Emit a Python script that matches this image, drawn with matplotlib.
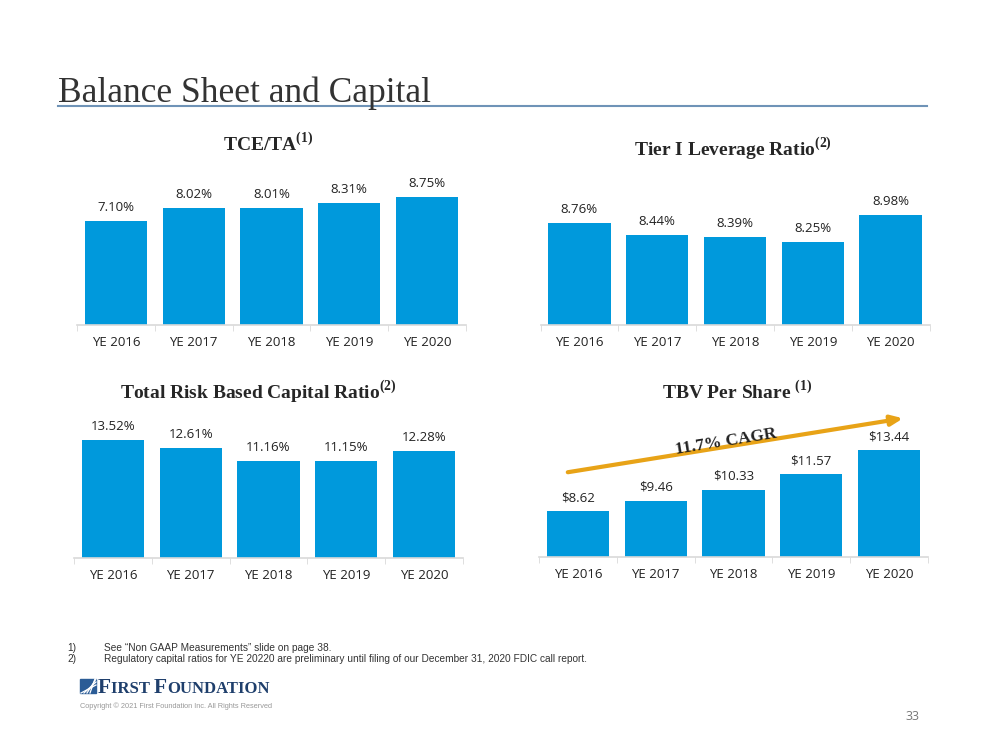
import numpy as np
import matplotlib
matplotlib.use("Agg")
import matplotlib.pyplot as plt
from matplotlib.lines import Line2D
from matplotlib.patches import Rectangle

years = ["YE 2016", "YE 2017", "YE 2018", "YE 2019", "YE 2020"]
tce_ta = [7.10, 8.02, 8.01, 8.31, 8.75]
tier1_leverage = [8.76, 8.44, 8.39, 8.25, 8.98]
total_risk = [13.52, 12.61, 11.16, 11.15, 12.28]
tbv_share = [8.62, 9.46, 10.33, 11.57, 13.44]
cagr_label = "11.7% CAGR"

BAR = "#0099DC"
SANS = "Open Sans"
SERIF = "Liberation Serif"

plt.rcParams["mathtext.fontset"] = "custom"
plt.rcParams["mathtext.rm"] = "Liberation Serif:bold"
plt.rcParams["mathtext.bf"] = "Liberation Serif:bold"

W, H = 1000, 750
fig = plt.figure(figsize=(10, 7.5), dpi=100)


def px_rect(left, base, height_px, width_px=389):
    # figure-fraction rect from pixel left / baseline / height
    return [left / W, (H - base) / H, width_px / W, height_px / H]


def bar_panel(rect, vals, ylim, fmt):
    ax = fig.add_axes(rect)
    x = np.arange(len(vals))
    bars = ax.bar(x, vals, width=0.8, color=BAR, zorder=2)
    ax.set_xlim(-0.5, len(vals) - 0.5)
    ax.set_ylim(*ylim)
    for s in ["top", "right", "left"]:
        ax.spines[s].set_visible(False)
    ax.spines["bottom"].set_color("#d9d9d9")
    ax.spines["bottom"].set_linewidth(1.2)
    ax.set_yticks([])
    ax.set_xticks(x)
    ax.set_xticklabels(years, fontfamily=SANS, fontsize=9.5, color="#222222")
    ax.tick_params(axis="x", which="major", length=0, pad=8)
    ax.set_xticks(np.arange(-0.5, len(vals)), minor=True)
    ax.tick_params(axis="x", which="minor", length=4, color="#d9d9d9")
    for b, v in zip(bars, vals):
        ax.annotate(fmt.format(v), (b.get_x() + b.get_width() / 2, v),
                    xytext=(0, 5), textcoords="offset points",
                    ha="center", va="bottom", fontfamily=SANS,
                    fontsize=9.5, color="#222222", annotation_clip=False)
    ax.patch.set_alpha(0)
    return ax


ax1 = bar_panel(px_rect(77, 325, 146.5), tce_ta, (0, 10), "{:.2f}%")
ax2 = bar_panel(px_rect(540.5, 325, 129.5), tier1_leverage, (6, 9.5), "{:.2f}%")
ax3 = bar_panel(px_rect(74, 558, 130.5), total_risk, (0, 15), "{:.2f}%")
ax4 = bar_panel(px_rect(539, 557, 120), tbv_share, (5, 14.5), "${:.2f}")

# CAGR arrow on the TBV panel
ax4.annotate("", xy=(4.18, 15.98), xytext=(-0.13, 11.71),
             arrowprops=dict(arrowstyle="-|>,head_length=0.7,head_width=0.3",
                             color="#E8A317", lw=3, shrinkA=0, shrinkB=0),
             annotation_clip=False)
ax4.text(1.9, 14.15, cagr_label, rotation=9.2, ha="center", va="center",
         fontfamily=SERIF, fontweight="bold", fontsize=12.5, color="#222222",
         clip_on=False)

# panel titles
title_kw = dict(ha="center", va="center", fontfamily=SERIF,
                fontweight="bold", fontsize=14, color="#262626")
fig.text(268 / W, 1 - 143 / H, r"TCE/TA$^{(1)}$", **title_kw)
fig.text(733 / W, 1 - 149 / H, r"Tier I Leverage Ratio$^{(2)}$", **title_kw)
fig.text(258 / W, 1 - 392 / H, r"Total Risk Based Capital Ratio$^{(2)}$", **title_kw)
fig.text(737 / W, 1 - 391 / H, r"TBV Per Share $^{(1)}$", **title_kw)

# slide header
fig.text(58 / W, 1 - 93 / H, "Balance Sheet and Capital", ha="left", va="center",
         fontfamily=SERIF, fontsize=25.5, color="#333333")
fig.add_artist(Line2D([58 / W, 927 / W], [1 - 106 / H, 1 - 106 / H],
                      color="#6F93B7", lw=1.5))

# footnotes
foot_kw = dict(ha="left", va="center", fontfamily="Liberation Sans",
               fontsize=7.3, color="#333333")
fig.text(67 / W, 1 - 648 / H, "1)", **foot_kw)
fig.text(104 / W, 1 - 648 / H, "See \u201cNon GAAP Measurements\u201d slide on page 38.", **foot_kw)
fig.text(67 / W, 1 - 659 / H, "2)", **foot_kw)
fig.text(104 / W, 1 - 659 / H,
         "Regulatory capital ratios for YE 20220 are preliminary until filing of our "
         "December 31, 2020 FDIC call report.", **foot_kw)

# logo: striped mark + small-caps wordmark
NAVY = "#1F3F6C"
fig.add_artist(Rectangle((80 / W, 1 - 693 / H), 16 / W, 14 / H,
                         color="#2B5C96", transform=fig.transFigure))
for k in range(4):
    fig.add_artist(Line2D([(81 + 3 * k) / W, 96 / W],
                          [1 - 693 / H, 1 - (685 - 3 * k) / H],
                          color="white", lw=0.9, transform=fig.transFigure))

renderer = fig.canvas.get_renderer()
x_px = 98
for piece, size in [("F", 15.5), ("IRST ", 12), ("F", 15.5), ("OUNDATION", 12)]:
    t = fig.text(x_px / W, 1 - 693 / H, piece, fontsize=size, ha="left",
                 va="baseline", fontfamily=SERIF, fontweight="bold", color=NAVY)
    x_px = t.get_window_extent(renderer).x1

fig.text(80 / W, 1 - 706 / H,
         "Copyright \u00a9 2021 First Foundation Inc. All Rights Reserved",
         ha="left", va="center", fontfamily="Liberation Sans", fontsize=5.3,
         color="#999999")
fig.text(906 / W, 1 - 716 / H, "33", ha="left", va="center",
         fontfamily=SANS, fontsize=9, color="#777777")

fig.savefig("out.png", dpi=100)
